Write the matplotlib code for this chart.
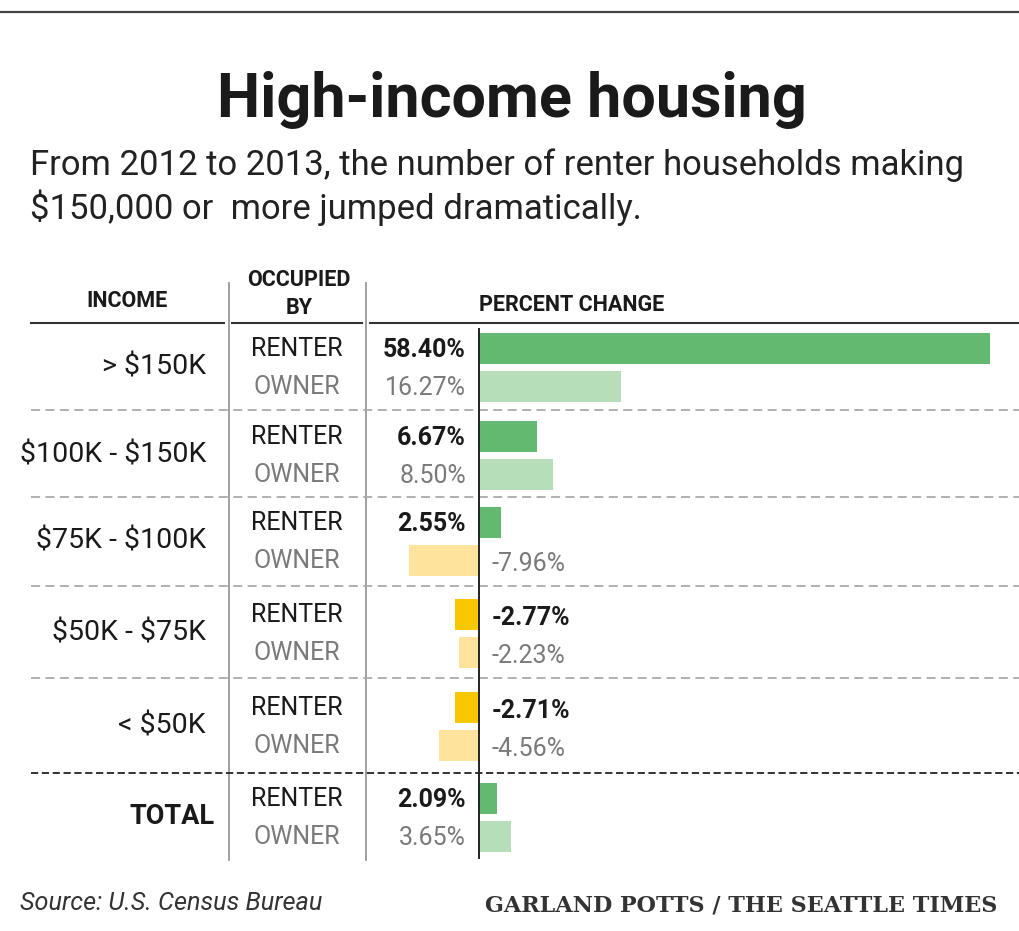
import matplotlib.pyplot as plt

# data
groups = ["> $150K", "$100K - $150K", "$75K - $100K", "$50K - $75K", "< $50K", "TOTAL"]
renter = [58.40, 6.67, 2.55, -2.77, -2.71, 2.09]
owner = [16.27, 8.50, -7.96, -2.23, -4.56, 3.65]

# colours
C_REN_POS = "#63b96f"
C_OWN_POS = "#b6dfb9"
C_REN_NEG = "#f7c700"
C_OWN_NEG = "#fde39c"
DARK = "#1a1a1a"
GRAY = "#7a7a7a"
LINE = "#999999"

W, H = 1019, 931
FONT = ["Roboto", "DejaVu Sans"]
plt.rcParams["font.family"] = FONT


def esc(s):
    # keep dollar signs literal (no mathtext)
    return s.replace("$", r"\$")


fig = plt.figure(figsize=(W / 100, H / 100), dpi=100)
fig.patch.set_facecolor("white")

# pixel axes for text and rules
ax = fig.add_axes([0, 0, 1, 1])
ax.set_xlim(0, W)
ax.set_ylim(H, 0)
ax.axis("off")

# bar axes: x in percent, y in pixels
ZERO_PX = 479
PX_PER_PCT = (990 - 479) / 58.40
axb = fig.add_axes([0, 0, 1, 1], facecolor="none")
axb.set_xlim(-ZERO_PX / PX_PER_PCT, (W - ZERO_PX) / PX_PER_PCT)
axb.set_ylim(H, 0)
axb.axis("off")

# layout (pixel rows)
renter_y = [348, 436, 522, 614, 707, 798]
PAIR_GAP = 38
BAR_H = 31
sep_y = [410, 497, 586, 678]
total_sep_y = 773

# top rule
ax.plot([0, W], [12, 12], color="#444444", lw=1.6)

# title + subtitle
ax.text(512, 100, "High-income housing", ha="center", va="center",
        fontsize=44, fontweight="bold", color=DARK)
ax.text(30, 165, "From 2012 to 2013, the number of renter households making",
        ha="left", va="center", fontsize=24.9, color="#222222")
ax.text(30, 208, esc("$150,000 or  more jumped dramatically."),
        ha="left", va="center", fontsize=24.9, color="#222222")

# column headers
HDR = 15.5
ax.text(127, 301, "INCOME", ha="center", va="center", fontsize=HDR,
        fontweight="bold", color=DARK)
ax.text(299, 280, "OCCUPIED", ha="center", va="center", fontsize=HDR,
        fontweight="bold", color=DARK)
ax.text(299, 308, "BY", ha="center", va="center", fontsize=HDR,
        fontweight="bold", color=DARK)
ax.text(479, 305, "PERCENT CHANGE", ha="left", va="center", fontsize=HDR,
        fontweight="bold", color=DARK)

# header underline
for x0, x1 in [(31, 224), (232, 362), (370, W)]:
    ax.plot([x0, x1], [323, 323], color="#333333", lw=1.5)

# vertical dividers
for x in [229, 366]:
    ax.plot([x, x], [283, 860], color=LINE, lw=1.3)

# row separators
for y in sep_y:
    ax.plot([31, W], [y, y], color="#aaaaaa", lw=1.3, ls=(0, (5, 3)))
ax.plot([31, W], [total_sep_y, total_sep_y], color="#222222", lw=1.3, ls=(0, (4, 2)))

# bars
own_y = [y + PAIR_GAP for y in renter_y]
axb.barh(renter_y, renter, height=BAR_H,
         color=[C_REN_POS if v >= 0 else C_REN_NEG for v in renter], zorder=2)
axb.barh(own_y, owner, height=BAR_H,
         color=[C_OWN_POS if v >= 0 else C_OWN_NEG for v in owner], zorder=2)
axb.plot([0, 0], [329, 858], color="#222222", lw=1.4, zorder=3)

# labels per group
LBL = 18
for i, g in enumerate(groups):
    yr, yo = renter_y[i], own_y[i]
    mid = yr + 19
    if g == "TOTAL":
        ax.text(215, mid, g, ha="right", va="center", fontsize=19.5,
                fontweight="bold", color=DARK)
    else:
        ax.text(206, mid, esc(g), ha="right", va="center", fontsize=20.5, color=DARK)
    ax.text(297, yr + 1, "RENTER", ha="center", va="center", fontsize=LBL, color=DARK)
    ax.text(297, yo + 1, "OWNER", ha="center", va="center", fontsize=LBL, color=GRAY)
    for val, y, bold, col in [(renter[i], yr, True, DARK), (owner[i], yo, False, GRAY)]:
        txt = f"{val:.2f}%"
        if val >= 0:
            ax.text(466, y + 2, txt, ha="right", va="center", fontsize=LBL,
                    fontweight="bold" if bold else "normal", color=col)
        else:
            ax.text(492, y + 4, txt, ha="left", va="center", fontsize=LBL,
                    fontweight="bold" if bold else "normal", color=col)

# footer
ax.text(20, 903, "Source: U.S. Census Bureau", ha="left", va="center",
        fontsize=18.2, style="italic", color="#333333")
ax.text(997, 906, "GARLAND POTTS / THE SEATTLE TIMES", ha="right", va="center",
        fontsize=16, family=["DejaVu Serif"], fontweight="bold",
        color="#333333")

fig.savefig("out.png", dpi=100, facecolor="white")
